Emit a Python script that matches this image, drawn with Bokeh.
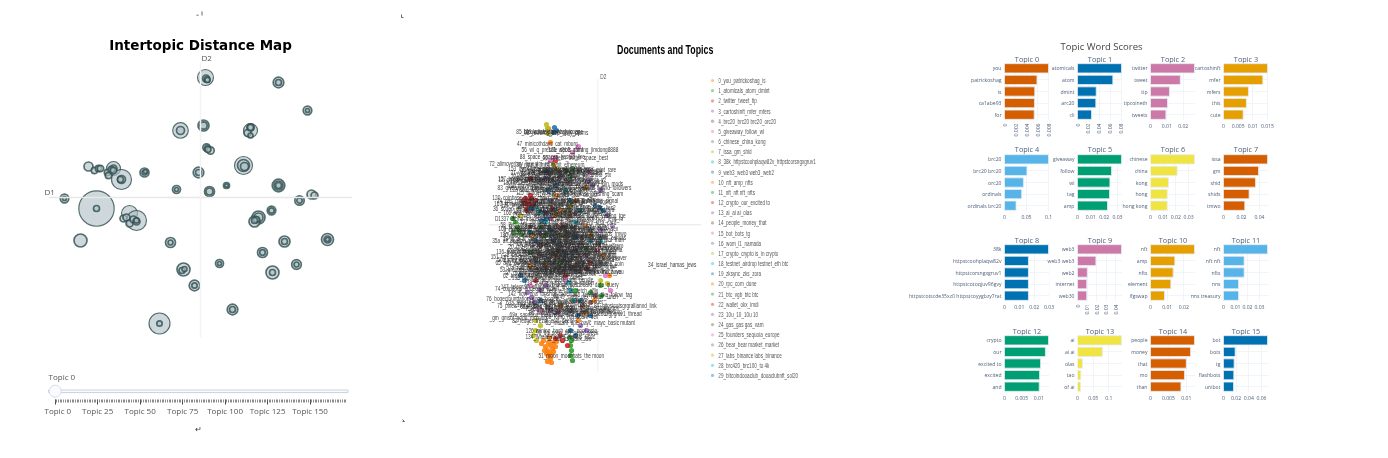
import math
from bokeh.embed import file_html
from bokeh.resources import INLINE
from bokeh.core.properties import value
from bokeh.models import (Column, FactorRange, FixedTicker, Label, LinearAxis, Range1d, Span)
from bokeh.plotting import figure

# ---- Intertopic map: D1, D2, radius ----
bubble_d1 = [5,5.5,6.5,7, 78,78, 107,107, -20,-20, 3,3, 50,50,47,50,50, 6,7,10,7.5, 43,43,44,
 -2,-2, -56,-56,-55, -87,-87, -79,-79,-80, -112,-106,-102,-100,-93,-89,-92,-87,
 -24,-24, 9,9, 26,26, 78,78,78, 111,114, -136,-136, -104,-104, -71,-64,-77,-74,-71,-67,-64,-64,
 99,99, 71,71, 58,58,54,56,54, -120, -30,-30, 84,84, 127,127,127, 62,62, 19,19, 96,96, 72,72,
 -17,-18.5,-16, -6,-6, 32,32, -41,-41]
bubble_d2 = [120,119,118,117.5, 115,115, 87,87, 67,67, 72,72, 67,70,64.5,62,70, 50,49,47,48, 32,32,31,
 25,25, 25,25,26, 29,29, 18,18,18, 31,27,29,29,25,28,22,27,
 8,8, 6,6, 12,12, 12,12,12, 3,2, -1,-1, -11,-11, -16,-23,-21,-20,-26,-22,-24,-23,
 -3,-3, -13,-13, -20,-20,-24,-22,-23, -43, -45,-45, -44,-44, -42,-42,-42, -55,-55, -66,-66, -67,-67, -75,-75,
 -72,-73,-71.5, -88,-88, -112,-112, -126,-126]
bubble_r = [8,3.5,3,2.5, 5.3,3, 4.3,2, 7.8,4, 5.5,3.7, 7,3.7,3.5,2.5,3, 3.7,3,3.7,3, 9,6,4,
 5.3,3, 4.5,2.5,2, 7,3.5, 10,4,3, 4.5,3.2,3.2,3.2,3.2,3.2,3.2,3.2,
 4,2, 5,3.5, 3,1.7, 6.3,4.5,3, 4.5,3.5, 4.3,2, 17.7,3, 8,10,3.5,3.5,3.5,3.5,3.5,2.6,
 4.7,2.7, 4.3,2.7, 6.5,4.5,5.5,3,3, 6.5, 5,2.5, 5.5,3, 6,3.5,2, 5,2.8, 4,2, 4.8,2.5, 6.5,3,
 6.5,3,2.5, 5.3,2.7, 5.3,3, 10.5,2.7]

slider_labels = ["Topic 0","Topic 25","Topic 50","Topic 75","Topic 100","Topic 125","Topic 150"]
slider_ticks = [0,25,50,75,100,125,150]
n_slider_topics = 172

# ---- Documents and topics ----
legend_names = ["0_you_patrickoshag_is","1_atomicals_atom_dmint","2_twitter_tweet_tip","3_cartoshinft_mfer_mfers",
 "4_brc20_brc20 brc20_orc20","5_giveaway_follow_wl","6_chinese_china_kong","7_issa_gm_shid",
 "8_38k_httpstcoohplaqw82v_httpstcorsngxgruv1","9_web3_web3 web3_web2","10_nft_amp_nfts","11_nft_nft nft_nfts",
 "12_crypto_our_excited to","13_ai_ai ai_olas","14_people_money_that","15_bot_bots_tg","16_wom_l1_namada",
 "17_crypto_crypto is_in crypto","18_testnet_airdrop testnet_eth btc","19_zksync_zks_zora","20_rpc_com_dune",
 "21_btc_vgb_btc btc","22_wallet_okx_lmdi","23_10u_10_10u 10","24_gas_gas gas_vam","25_founders_sequoia_europe",
 "26_bear_bear market_market","27_labs_binance labs_binance","28_brc420_brc100_to 4k","29_bitcoindooaclub_dooaclubnft_sol20"]
d3_cycle = ["#ff7f0e","#2ca02c","#d62728","#9467bd","#8c564b","#e377c2","#7f7f7f","#bcbd22","#17becf","#1f77b4"]

orange_d1=[-49,-47,-52,-45,-50,-48,-53,-46,-44,-42,-49,-51,-47,-50,-48,-44,-56,-41,-54,-46,-49,-47,-41,-12,-22,-37,-65,-7,12,-25,-12,-3,-19,-37,-12,-42,-52,-67,6,-42]
orange_d2=[-118,-121,-122,-124,-126,-128,-126,-130,-118,-122,-132,-129,-134,-137,-113,-127,-119,-117,-116,-138,96,82,29,37,24,14,-11,-11,-51,-76,-88,-76,-96,-81,-1,-31,-41,-41,-31,9]
red_d1=[-72,-69,-66,-73,-68,-64,-70,-67,-74,-62,-65,-71,-67,-42,-45,-37,0,-7,-11,1,-32,-62,-37,-35,-42,-30]
red_d2=[26,24,26,21,20,20,17,29,24,24,16,14,46,64,16,-1,-26,-38,-44,-19,-51,-56,-111,-116,-114,-121]
green_d1=[-27,-26,-27,-25,-26,-28,-85,-82,-80,-78,-76,-84,-67,-52,-27,-32,-25,-11,3,-7,4,-37,-57,-22]
green_d2=[-121,-126,-131,-136,-116,-113,6,2,-2,-6,-10,-8,-28,-11,49,54,56,-24,-61,-68,-71,-38,-1,-66]
blue_d1=[-43,-41,-44,-51,-67,-56,-52,-42,-49,-27,-2,2,6,-17,-20,-7,-27,-22,-77,-73,-57,-32,-44,-62,-22]
blue_d2=[97,94,92,6,16,4,54,39,34,24,19,17,14,-76,-91,-91,-106,-111,-51,-56,-76,-31,-16,-16,-13]
purple_d1=[-70,-66,-63,-57,-52,-47,-9,-5,3,-52,-49,-37,-52,3,10,15,-17,-11,-22]
purple_d2=[-68,-73,-78,-66,-61,-86,44,39,34,46,52,48,12,-6,9,-1,-101,-106,-26]
pink_d1=[-47,-42,-25,-19,-7,-67,-57,-32,-47,13,8,-27,-39,-12]
pink_d2=[64,67,72,78,52,-61,-86,-56,6,-66,-51,9,-88,-31]
cyan_d1=[-61,-57,-52,-32,-17,-22,-27,-29,-24,3,-47,-67,-7]
cyan_d2=[16,12,2,34,14,2,-66,-58,-76,-16,-6,-8,-16]
olive_d1=[-51,-50,-49,-44,-41,-27,-29,-62,-64,-61,-57,-62,3,10,-37,-77]
olive_d2=[100,96,91,60,56,19,12,-106,-111,-116,-101,-96,-56,-59,-11,9]
brown_d1=[-22,-15,-7,-39,-57,-22,-32,-2,-67]
brown_d2=[-76,-81,-78,-26,-21,-41,-1,-71,-1]
gray_d1=[-47,-37,-17,-62,-7,-27,-42,3]
gray_d2=[24,-24,-21,-34,-6,-86,-71,-38]

# labels drawn over the documents, one list per band of the cloud (top to bottom)
top_labels = ["85_blockchain_the hash_copy","109_cointelegraph_join_ape","98_rewards_free_daily_claims","47_minicothdays_cat_mburg",
 "56_wl_q_presale_spots_mint","101_web3_gaming_jimdong8888","88_space_spaces_hosted_live","66_speech_twitter_space_best"]
top_d1 = [-49,-44,-41,-50, -45,-14,-45,-22]
top_d2 = [93,93,92,81, 75,75,68,67]

upper_labels = ["72_alimoverboy_hey_dm_reply","39_mantle_mnt_bybit_ethereum","44_sol_solana_pump_jup_bonk","91_sei_cosmos_osmo_atom_inj",
 "77_airdrop_claim_eligible_now","31_vitalik_ethereum_eth_vb","38_arb_arbitrum_layer2_gas","102_farcaster_frames_degen_cast",
 "106_stacks_sbtc_nakamoto_stx","107_lido_steth_validators_eth","12_crypto_our_excited to","60_dao_governance_vote_proposal",
 "113_nonce_tweet_ordinal_mint","108_hiring_jobs_remote_team","110_podcast_episode_listen_ep","111_launch_mainnet_live_today",
 "83_giveaway_presale_whitelist","137_reward_fluffnd_followers","140_token_holders_retweet","112_sale_whitelist_spots_open",
 "114_nakamigos_cigarettes_pfp","115_bridge_across_stargate_l0","116_ton_wallet_ston_dedust","117_seed_phrase_phishing_scam"]
upper_d1 = [-75,-47,-37,-42, -27,-57,-47,-32, -20,-55,-72,-42, -27,-55,-60,-35, -67,3,-37,-55, -25,-48,-30,-10]
upper_d2 = [61,60,56,55, 54,52,51,52, 50,49,45,46, 43,44,42,41, 37,37,36,35, 35,32,30,31]

middle_labels = ["24_gas_gas gas_vam","120_coinbase_base_chain_onchain","96_memes_pepe_doge_shib_floki","71_hodl_bull_pump_top_signal",
 "118_staking_apy_yield_eth btc","121_sniper_maestro_banana_gun","36_scoop_alpha_thread_news","80_blast_points_gold_jackpot",
 "104_nodes_layer3_rpc_lies2","122_rollup_sequencer_blobs_da","64_bonk_wif_jup_sol","123_perps_gmx_dydx_leverage",
 "124_mev_flashboost_builder","D1337_alpha_insider_degen","52_lens_protocol_post_lens_in","125_vc_funding_raise_seed",
 "127_liquidity_pool_lp_uniswap","128_pay_payment_visa_card","58_kyc_binance_exchange_okx","129_web_browser_brave_dapp"]
middle_d1 = [-77,-67,-32,-12, -45,-60,-72,-27, -12,-50,-40,-20, -55,-72,-7,-30, -45,-12,-63,-25]
middle_d2 = [24,27,24,24, 21,20,16,15, 17,14,11,11, 9,6,6,7, 3,2,0,-1]

core_labels = ["33_sui_aptos_move_token","0_you_patrickoshag_is_ca1abe93","1_atomicals_atom_dmint_arc20","2_twitter_tweet_tip_tipcoineth",
 "3_cartoshinft_mfer_mfers_this","4_brc20_brc20 brc20_orc20","5_giveaway_follow_wl_tag","6_chinese_china_kong_hong",
 "7_issa_gm_shid_shids_tmwo","9_web3_web3 web3_web2_web30","10_nft_amp_nfts_element","11_nft_nft nft_nfts_nns",
 "13_ai_ai ai_olas_tao_of ai","14_people_money_that_than","15_bot_bots_tg_flashbots","16_wom_l1_namada_mainnet",
 "17_crypto_crypto is_in crypto","18_testnet_airdrop testnet_eth btc","19_zksync_zks_zora_layerzero","20_rpc_com_dune_query",
 "21_btc_vgb_btc btc_satoshi","22_wallet_okx_lmdi_metamask","23_10u_10_10u 10_usdt","25_founders_sequoia_europe",
 "26_bear_bear market_market","27_labs_binance labs_binance","28_brc420_brc100_to 4k","29_bitcoindooaclub_dooaclubnft_sol20",
 "151_ton_telegram_notcoin_dogs","30_hack_exploit_stolen_funds","35_usdt_usdc_stable_tether","37_nfts_opensea_blur_floor",
 "40_etf_sec_blackrock_bitcoin","41_eigen_restake_layer_lrt","42_price_chart_target_long","43_pepe_frog_meme_coin",
 "45_defi_tvl_lending_aave","46_ens_domain_name_eth","48_merch_shop_store_drop","49_music_artist_song_album",
 "50_game_play_gamers_steam","53_ordinals_inscription_rune","54_mint_free_live_public","55_thank_thanks_much_you",
 "57_morning_gm_coffee_day","59_zk_proof_rollup_starknet","61_trump_biden_election_usa","63_link_oracle_chainlink",
 "65_ada_cardano_hoskinson","67_polygon_matic_zkevm_pol","68_avax_avalanche_subnet","69_dot_polkadot_kusama",
 "70_tia_celestia_modular","73_xrp_ripple_sec_garlinghouse","130_rwa_ondo_tokenized_assets","131_depin_helium_filecoin_io",
 "132_inj_injective_helix_dex","133_stx_ordinals_alex_bitflow","135_pyth_wormhole_jito_drift","136_taproot_lightning_node_sats"]
core_d1 = [-47,-52,-22,-37, -62,-14,-47,-27, -2,-57,-37,-17, -67,-4,-42,-22,
 -57,-32,-7,-62, -12,-42,-27,-52, -12,-37,-67,-22, -72,-47,-7,-32,
 -62,-17,-42,-2, -57,-27,-12,-47, -37,-67,-17,-4, -62,-32,-47,-12,
 -72,-27,-52,-2, -42,-17,-62,-32, -8,-47,-22,-66]
core_d2 = [-2,-2,-3,-5, -5,-6,-8,-9, -9,-11,-12,-12, -14,-15,-17,-18,
 -19,-20,-21,-22, -23,-24,-25,-26, -27,-28,-30,-31, -32,-33,-34,-35,
 -36,-37,-38,-39, -40,-41,-42,-43, -44,-45,-46,-47, -48,-49,-50,-29,
 -38,-16,-7,-25, -31,-35,-10,-43, -4,-47,-13,-27]

dense_labels = ["153_dydx_chain_trading_v4_perps","154_swell_ether_fi_renzo_points","155_pixel_art_collection_mint_rare","156_metis_mode_scroll_linea_l2",
 "157_holder_snapshot_reward_epoch","158_mainnet_launch_today_beta_v2","159_community_discord_join_mods","160_wave_points_quest_galxe_zealy",
 "161_sats_lightning_nostr_zaps_alby","162_ftx_sbf_bankman_trial_court","163_korea_japan_asia_event_tokyo","164_dubai_token2049_conference_side",
 "165_rune_sats_pizza_ninja_wizard","166_wbtc_bridge_custody_vault_lbtc","167_memecoin_cat_dog_community","168_ico_presale_round_vesting_tge",
 "169_hyperliquid_hype_pts_perp_dex","170_mining_bitmain_antminer_hash","171_news_report_breaking_today","31a_scroll_marks_session_canvas",
 "35a_alt_season_altcoins_rally_dump","40a_btc_halving_cycle_price_ath","42a_friend_clubs_keys_tech_room","43a_uni_v4_hooks_fee_swap_pool",
 "45a_tether_circle_stablecoin_peg","46a_sale_auction_bid_floor_sweep","48a_phantom_backpack_wallet_xnft","49a_zkevm_taiko_proofs_prover",
 "50a_mev_sandwich_bundle_builder","53a_runes_etching_mint_halving","54a_validator_node_stake_delegate","55a_ama_join_us_tonight_live",
 "57a_rollups_celestia_dymension_rdx","59a_creator_fees_royalty_artist","61a_lending_morpho_compound_aave","63a_terra_luna_ust_do_kwon",
 "65a_shiba_inu_burn_leash_bone","67a_aave_gho_stable_safety_module","68a_jito_jup_drift_tensor_airdrop","69a_sandbox_metaverse_land_mana"]
dense_d1 = [-52,-35,-18,-45, -60,-30,-12,-50, -40,-22,-65,-38, -20,-55,-33,-10,
 -60,-42,-25,-8, -66,-48,-30,-14, -55,-38,-20,-5, -62,-44,-28,-12,
 -52,-34,-17,-60, -42,-26,-10,-48]
dense_d2 = [56,53,55,47, 46,45,41,39, 25,23,21,18, 15,12,13,9,
 -4,-8,-11,-13, -16,-18,-20,-23, -26,-28,-30,-33, -35,-37,-39,-41, -43,-45,-47,-78, -82,-85,-87,-90]

lower_labels = ["62_brc_tbc_fractal_utxo","138_claim_drop_snapshot_points","74_coindogs_dogecoin_elon","139_solana_saga_phone_seeker",
 "141_dune_dashboard_data_query","142_flow_nba_topshot_cadence","76_bogecfoundation_doge_bogec","143_hedera_hbar_fetch_agix",
 "75_pixels_ronin_axie_mint","84_httpstcotsgrgrallianxd_link","78_llm_gpu_compute_render","79_elon_musk_grok_x",
 "87_httpstcoaxgpgruv1_thread","81_kaspa_kas_miner_pow","144_optimism_op_superchain_gov","_gm_gmsol_good_morning",
 "82_ledger_trezor_cold_seed","89_mutant_ape_bayc_mayc_basic mutant","86_fomo_rug_scam_dev","145_cosmos_tia_stride_keplr",
 "146_retweet_like_follow_tag","147_telegram_channel_join_group","148_yield_vault_farm_pendle","149_swap_dex_router_1inch",
 "150_degen_ape_moonshot_100x","152_mint_pass_allowlist_raffle"]
lower_d1 = [-69,-50,-72,-38, -15,-55,-75,-30, -72,28,-25,-48, 13,-40,-15,-79, -55,-7,-25,-40, 5,-60,-35,-10, -45,-20]
lower_d2 = [-51,-53,-64,-58, -60,-69,-74,-66, -81,-81,-77,-84, -89,-88,-83,-93, -96,-98,-92,-76, -70,-62,-55,-72, -80,-86]

bottom_labels = ["126_mining_hash_rate_pool_asic","90_lfg_soon_big_news_week","134_whale_moved_wallets_usdc","92_tax_irs_bank_law",
 "51_moon_moonbats_the moon","34_israel_hamas_jews"]
bottom_d1 = [-36,-30,-37,-28, -26,75]
bottom_d2 = [-106,-108,-112,-114, -131,-40]

label_text = top_labels + upper_labels + middle_labels + core_labels + dense_labels + lower_labels + bottom_labels
label_d1 = top_d1 + upper_d1 + middle_d1 + core_d1 + dense_d1 + lower_d1 + bottom_d1
label_d2 = top_d2 + upper_d2 + middle_d2 + core_d2 + dense_d2 + lower_d2 + bottom_d2

# ---- Topic word scores ----
topic_words = [["you","patrickoshag","is","ca1abe93","for"],["atomicals","atom","dmint","arc20","cli"],
 ["twitter","tweet","tip","tipcoineth","tweets"],["cartoshinft","mfer","mfers","this","cute"],
 ["brc20","brc20 brc20","orc20","ordinals","ordinals brc20"],["giveaway","follow","wl","tag","amp"],
 ["chinese","china","kong","hong","hong kong"],["issa","gm","shid","shids","tmwo"],
 ["38k","httpstcoohplaqw82v","httpstcorsngxgruv1","httpstcotoqjuv96gvy","httpstcotscde35xz0 httpstcoyygbzy7rat"],
 ["web3","web3 web3","web2","internet","web30"],["nft","amp","nfts","element","lfgswap"],
 ["nft","nft nft","nfts","nns","nns treasury"],["crypto","our","excited to","excited","and"],
 ["ai","ai ai","olas","tao","of ai"],["people","money","that","mo","than"],["bot","bots","tg","flashbots","unibot"]]
topic_scores = [[.008,.0059,.0055,.00545,.0054],[.0807,.0648,.0343,.0336,.0257],[.0269,.0182,.0116,.0104,.0094],
 [.015,.0134,.0085,.0078,.0067],[.1,.051,.043,.039,.0263],[.033,.0255,.0243,.024,.0225],[.0347,.021,.0142,.0132,.0132],
 [.049,.039,.0356,.0285,.0237],[.0296,.0161,.0161,.0161,.0161],[.0462,.0193,.0103,.0097,.0097],[.0264,.0146,.0136,.0122,.0084],
 [.0367,.0172,.0172,.0125,.0125],[.0128,.0119,.0105,.0102,.0101],[.14,.079,.0158,.0105,.0095],[.0123,.0112,.01,.0095,.0085],
 [.0695,.0184,.0168,.0163,.0158]]
topic_ticks = [[0,.002,.004,.006,.008],[0,.02,.04,.06,.08],[0,.01,.02],[0,.005,.01,.015],[0,.05,.1],[0,.01,.02,.03],
 [0,.01,.02,.03],[0,.02,.04],[0,.01,.02,.03],[0,.01,.02,.03,.04],[0,.01,.02],[0,.01,.02,.03],[0,.005,.01],[0,.05,.1],
 [0,.005,.01],[0,.02,.04,.06]]
rotated_topics = [0,1,9]
word_colors = ["#D55E00","#0072B2","#CC79A7","#E69F00","#56B4E9","#009E73","#F0E442"]

SANS = "Liberation Sans"
SQUEEZE = 0.7
SOFTEN = "blur(0.35px)"
children = []

def place(fig, left, top, squeeze=None):
    s = {"position": "absolute", "left": f"{left}px", "top": f"{top}px", "filter": SOFTEN}
    if squeeze:
        s["transform"] = f"scaleX({squeeze})"
        s["transform-origin"] = "0 0"
    fig.styles = s
    children.append(fig)

def base(width, height, xr, yr, l=0, r=0, t=0, b=0, **kw):
    f = figure(width=width, height=height, x_range=xr, y_range=yr, toolbar_location=None, tools="",
               output_backend="svg", min_border_left=l, min_border_right=r, min_border_top=t, min_border_bottom=b,
               background_fill_color=None, border_fill_color=None, outline_line_color=None,
               frame_align=False, **kw)
    f.grid.visible = False
    return f

# page-level marks, axis names and the third title
page = base(1372, 442, Range1d(8, 1380), Range1d(450, 8), x_axis_type=None, y_axis_type=None)
page.segment(x0=[196,201.5,401,401,402,402], y0=[14.7,11,14,17,419,421], x1=[198,201.5,401,403,404,404], y1=[14.7,15,17,17,421,421],
             line_color="#666", line_width=1)
page.text(x=[198], y=[429], text=["\u21b5"], text_font=value("DejaVu Sans"), text_font_size="8px", text_align="center",
          text_baseline="middle", text_color="#333")
page.text(x=[44, 201], y=[191, 56.5], text=["D1", "D2"], text_font=value("Open Sans"), text_font_size="8px",
          text_color="#555555", text_baseline="middle")
page.add_layout(Label(x=1101, y=46, text="Topic Word Scores", text_font="Open Sans", text_font_size="9.5px",
                      text_align="center", text_baseline="middle", text_color="#444444"))
page.add_layout(Label(x=200, y=44, text="Intertopic Distance Map", text_font="DejaVu Sans", text_font_style="bold",
                      text_font_size="13.5px", text_align="center", text_baseline="middle", text_color="#000000"))
place(page, 8, 8)

# Intertopic distance map
pa = base(400, 314, Range1d(-152, 152), Range1d(-140, 135), l=40, r=56, t=34, b=5,
          x_axis_type=None, y_axis_type=None)
pa.add_layout(Span(location=0, dimension="width", line_color="#e8e8e8", line_width=1.5))
pa.add_layout(Span(location=0, dimension="height", line_color="#f3f3f3", line_width=1.5))
pa.circle(x=bubble_d1, y=bubble_d2, radius=bubble_r, fill_color="#B0BEC5", fill_alpha=0.62,
          line_color="#2F4F4F", line_alpha=0.8, line_width=[1.7 if r < 7 else 1.15 for r in bubble_r])
place(pa, 8, 28)

# Slider, drawn on the same kind of scale
px_per_topic = 1.699
sl = base(330, 50, Range1d(-10.7/px_per_topic, (350-54.7)/px_per_topic), Range1d(0, 29), l=0, r=24, t=0, b=21,
          x_axis_type=None, y_axis_type=None)
sl.quad(left=[-3.9], right=[172.3], bottom=[6.9], top=[9.5], fill_color="#f8fafc", line_color="#c9d2e2", line_width=1)
sl.scatter(x=[0], y=[8.3], size=12, fill_color="#fafbfe", line_color="#d5dbe8", line_width=1)
sl.add_layout(Label(x=-3.9, y=23, text="Topic 0", text_font="Open Sans", text_font_size="8px", text_color="#555555",
                    text_baseline="middle"))
ax = LinearAxis(ticker=FixedTicker(ticks=slider_ticks, minor_ticks=list(range(n_slider_topics))),
                major_label_overrides={t: n for t, n in zip(slider_ticks, slider_labels)},
                axis_line_color=None, major_tick_line_color="#444444", minor_tick_line_color="#666666",
                major_tick_in=0, major_tick_out=5, minor_tick_in=0, minor_tick_out=3, major_tick_line_width=1,
                minor_tick_line_width=1, minor_tick_line_alpha=0.75, major_label_standoff=0,
                major_label_text_font="Open Sans", major_label_text_font_size="8px", major_label_text_color="#555555")
sl.add_layout(ax, "below")
place(sl, 44, 370)

# Documents and topics: marks
pb = base(240, 324, Range1d(-109, 104), Range1d(-148, 146), l=8, r=19, t=28, b=2, x_axis_type=None, y_axis_type=None)
pb.add_layout(Span(location=-0.3, dimension="width", line_color="#e6e6e6", line_width=1))
pb.add_layout(Span(location=0.3, dimension="height", line_color="#f0f0f0", line_width=1))
doc_groups = [(d3_cycle[0],orange_d1,orange_d2),(d3_cycle[1],green_d1,green_d2),(d3_cycle[2],red_d1,red_d2),
              (d3_cycle[3],purple_d1,purple_d2),(d3_cycle[4],brown_d1,brown_d2),(d3_cycle[5],pink_d1,pink_d2),
              (d3_cycle[6],gray_d1,gray_d2),(d3_cycle[7],olive_d1,olive_d2),(d3_cycle[8],cyan_d1,cyan_d2),
              (d3_cycle[9],blue_d1,blue_d2)]
for col, xs, ys in doc_groups:
    pb.scatter(x=xs, y=ys, size=5.2, fill_color=col, line_color=None, fill_alpha=0.9)
place(pb, 480, 50)

# Documents and topics: the condensed text layer.  The page measures the squeezed box, so the declared
# width is divided by the squeeze twice to land on 250 px on screen.
pt = base(round(250/SQUEEZE/SQUEEZE), 338, Range1d(-127, 123), Range1d(-148, 190), x_axis_type=None, y_axis_type=None)
pt.text(x=label_d1, y=label_d2, text=label_text, text_font=value(SANS), text_font_size="6.8px",
        text_align="center", text_baseline="middle", text_color="#2a2a2a", text_alpha=0.9)
pt.text(x=[3], y=[148], text=["D2"], text_font=value(SANS), text_font_size="6.8px", text_color="#555555",
        text_baseline="middle")
pt.text(x=[68], y=[175], text=["Documents and Topics"], text_font=value(SANS), text_font_style="bold",
        text_font_size="12.6px", text_color="#000000", text_align="center", text_baseline="middle")
place(pt, 470, 34, SQUEEZE)

# Legend of the documents panel
rows = list(range(len(legend_names)))
leg_pad = (305/10.17-29)/2
pl = base(20, 305, Range1d(0, 20), Range1d(29+leg_pad, -leg_pad), x_axis_type=None, y_axis_type=None)
pl.scatter(x=[2]*len(rows), y=rows, size=3.2, fill_color=[d3_cycle[i % 10] for i in rows], line_color=None, fill_alpha=0.45)
place(pl, 710, 75)
pm = base(300, 305, Range1d(0, 300), Range1d(29+leg_pad, -leg_pad), x_axis_type=None, y_axis_type=None)
pm.text(x=[0]*len(rows), y=rows, text=legend_names, text_font=value(SANS), text_font_size="6.6px",
        text_baseline="middle", text_color="#555555")
place(pm, 718, 75, SQUEEZE)

# Topic word scores
col_left = [1004, 1077, 1150, 1223]
row_top = [62, 152.5, 243, 334]
frame_w, frame_h = 45, 58
left_pad = 120
for i, (words, scores, ticks) in enumerate(zip(topic_words, topic_scores, topic_ticks)):
    f = base(left_pad+frame_w+14, 12+frame_h+24, Range1d(0, max(scores)*45/44), FactorRange(factors=words[::-1]),
             l=left_pad, r=14, t=12, b=24)
    f.hbar(y=words, right=scores, height=0.8, left=0, fill_color=word_colors[i % 7], line_color="#e6ecf5", line_width=0.8)
    f.xgrid.visible = True; f.ygrid.visible = True
    f.xgrid.ticker = FixedTicker(ticks=ticks)
    f.xgrid.grid_line_color = "#EBF0F8"; f.ygrid.grid_line_color = "#EBF0F8"
    f.xgrid.grid_line_width = 0.7; f.ygrid.grid_line_width = 0.7
    f.xgrid.level = "underlay"; f.ygrid.level = "underlay"
    f.xaxis.ticker = FixedTicker(ticks=ticks)
    f.xaxis.major_label_overrides = {k: f"{k:g}" for k in ticks}
    for axis in (f.xaxis[0], f.yaxis[0]):
        axis.axis_line_color = None
        axis.major_tick_line_color = None
        axis.minor_tick_line_color = None
        axis.major_tick_in = 0
        axis.major_tick_out = 0
        axis.major_label_text_font = "Open Sans"
        axis.major_label_text_font_size = "5.1px"
        axis.major_label_text_color = "#2a3f5f"
        axis.major_label_text_alpha = 0.85
        axis.major_label_standoff = 3
    if i in rotated_topics:
        f.xaxis.major_label_orientation = math.pi/2
    place(f, col_left[i % 4]-left_pad, row_top[i // 4]-12)

# subplot titles live on the page layer, centred over each panel frame
page.text(x=[col_left[i % 4]+frame_w/2 for i in range(16)], y=[row_top[i // 4]-4 for i in range(16)],
          text=[f"Topic {i}" for i in range(16)], text_font=value("Open Sans"), text_font_size="7.3px",
          text_color="#2a3f5f", text_alpha=0.85, text_align="center", text_baseline="middle")

root = Column(children=children, width=1372, height=442, styles={"position": "relative"})
open("out.html", "w").write(file_html(root, INLINE))
